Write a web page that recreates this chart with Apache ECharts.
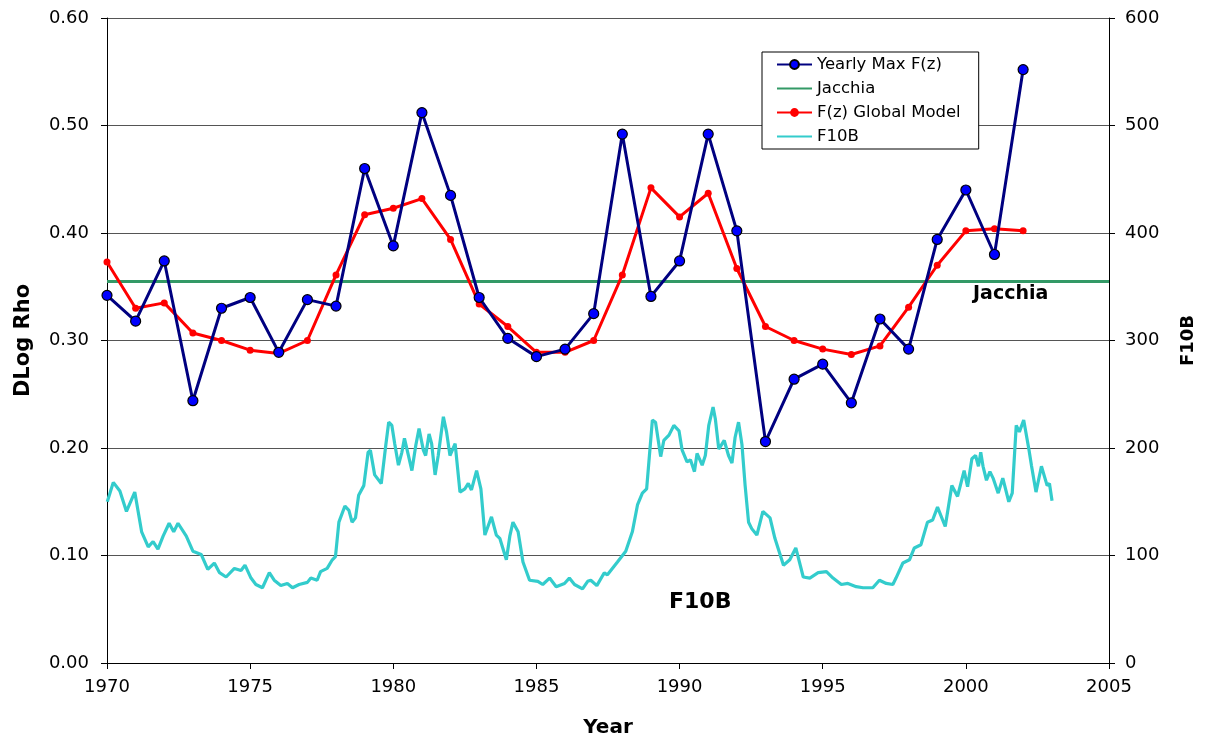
<!DOCTYPE html>
<html>
<head>
<meta charset="utf-8">
<script src="https://cdn.jsdelivr.net/npm/echarts@6/dist/echarts.min.js"></script>
<style>
html,body{margin:0;padding:0;background:#fff;overflow:hidden;}
#chart{width:1205px;height:743px;}
</style>
</head>
<body>
<div id="chart"></div>
<script>
// ---- data ----
var years = [1970,1971,1972,1973,1974,1975,1976,1977,1978,1979,1980,1981,1982,1983,1984,1985,1986,1987,1988,1989,1990,1991,1992,1993,1994,1995,1996,1997,1998,1999,2000,2001,2002];
var yearlyMaxFz = [0.342,0.318,0.374,0.244,0.330,0.340,0.289,0.338,0.332,0.460,0.388,0.512,0.435,0.340,0.302,0.285,0.292,0.325,0.492,0.341,0.374,0.492,0.402,0.206,0.264,0.278,0.242,0.320,0.292,0.394,0.440,0.380,0.552];
var globalModelFz = [0.373,0.330,0.335,0.307,0.300,0.291,0.288,0.300,0.361,0.417,0.423,0.432,0.394,0.334,0.313,0.289,0.289,0.300,0.361,0.442,0.415,0.437,0.367,0.313,0.300,0.292,0.287,0.295,0.331,0.370,0.402,0.404,0.402];
var jacchiaYears = [1970, 2005];
var jacchiaValue = 0.355;
var f10b = [
[1970.01,150],[1970.22,168],[1970.45,160],[1970.68,141],[1970.97,159],[1971.21,122],[1971.44,108],[1971.61,113],[1971.78,106],[1971.96,118],
[1972.17,130],[1972.33,122],[1972.48,130],[1972.77,118],[1973.00,104],[1973.29,101],[1973.52,87],[1973.75,93],[1973.93,84],[1974.16,80],
[1974.45,88],[1974.68,86],[1974.82,91],[1975.03,79],[1975.20,73],[1975.43,70],[1975.67,84],[1975.84,77],[1976.07,72],[1976.30,74],
[1976.48,70],[1976.71,73],[1977.00,75],[1977.12,79],[1977.34,77],[1977.46,85],[1977.69,88],[1977.87,96],[1977.98,99],[1978.10,131],
[1978.31,146],[1978.45,142],[1978.56,131],[1978.68,135],[1978.79,156],[1978.97,165],[1979.12,196],[1979.20,198],[1979.35,175],[1979.58,167],
[1979.74,203],[1979.84,224],[1979.95,221],[1980.05,204],[1980.18,184],[1980.30,196],[1980.39,209],[1980.53,193],[1980.65,179],[1980.79,203],
[1980.90,218],[1981.05,198],[1981.13,193],[1981.25,213],[1981.34,204],[1981.46,175],[1981.57,193],[1981.75,229],[1981.86,215],[1981.98,193],
[1982.16,204],[1982.33,159],[1982.50,162],[1982.62,167],[1982.73,161],[1982.91,179],[1983.06,162],[1983.20,119],[1983.43,136],[1983.60,119],
[1983.72,116],[1983.95,96],[1984.07,118],[1984.18,131],[1984.36,122],[1984.53,94],[1984.76,77],[1985.05,76],[1985.22,73],[1985.46,79],
[1985.69,71],[1985.98,74],[1986.15,79],[1986.33,73],[1986.61,69],[1986.79,76],[1986.90,77],[1987.11,72],[1987.37,84],[1987.48,82],
[1987.83,94],[1988.12,104],[1988.35,122],[1988.53,147],[1988.70,158],[1988.85,162],[1989.05,226],[1989.16,224],[1989.34,192],[1989.45,207],
[1989.63,212],[1989.80,221],[1989.98,216],[1990.09,198],[1990.26,187],[1990.38,189],[1990.52,178],[1990.61,195],[1990.79,184],[1990.90,193],
[1991.02,221],[1991.17,238],[1991.25,227],[1991.37,199],[1991.56,207],[1991.71,193],[1991.83,186],[1991.94,210],[1992.06,224],[1992.18,203],
[1992.29,165],[1992.41,131],[1992.52,125],[1992.70,119],[1992.91,141],[1993.16,135],[1993.33,116],[1993.63,91],[1993.85,96],[1994.06,107],
[1994.32,80],[1994.55,79],[1994.84,84],[1995.13,85],[1995.36,79],[1995.65,73],[1995.88,74],[1996.17,71],[1996.41,70],[1996.75,70],
[1996.98,77],[1997.22,74],[1997.45,73],[1997.56,79],[1997.80,93],[1998.03,96],[1998.20,107],[1998.43,110],[1998.66,131],[1998.84,133],
[1999.01,145],[1999.28,127],[1999.51,165],[1999.71,155],[1999.94,179],[2000.06,164],[2000.21,190],[2000.34,193],[2000.44,183],[2000.52,196],
[2000.60,183],[2000.72,170],[2000.84,178],[2000.95,172],[2001.13,158],[2001.29,172],[2001.50,150],[2001.62,158],[2001.76,221],[2001.87,215],
[2002.02,226],[2002.20,199],[2002.29,184],[2002.45,159],[2002.64,183],[2002.84,165],[2002.92,167],[2003.01,151]
];
var xTicks = {min:1970, max:2005, step:5};
var leftTicks = {min:0, max:0.6, step:0.1};
var rightTicks = {min:0, max:600, step:100};

var FONT = 'DejaVu Sans';

function pairs(xs, ys){ return xs.map(function(x,i){ return [x, ys[i]]; }); }

var chart = echarts.init(document.getElementById('chart'), null, {renderer:'canvas'});
chart.setOption({
  animation:false,
  backgroundColor:'#fff',
  textStyle:{fontFamily:FONT, color:'#000'},
  grid:{left:107, right:91, top:18, bottom:78},
  legend:{
    orient:'vertical', left:762, top:52,
    backgroundColor:'#fff', borderColor:'#000', borderWidth:1,
    padding:[4,18,4,14],
    itemWidth:35, itemHeight:11, itemGap:7,
    textStyle:{fontFamily:FONT, fontSize:16.5, color:'#000'},
    data:[
      {name:'Yearly Max F(z)'},
      {name:'Jacchia', itemStyle:{opacity:0}},
      {name:'F(z) Global Model'},
      {name:'F10B', itemStyle:{opacity:0}}
    ]
  },
  xAxis:{
    type:'value', min:xTicks.min, max:xTicks.max, interval:xTicks.step,
    name:'Year', nameLocation:'middle', nameGap:55,
    nameTextStyle:{fontFamily:FONT, fontSize:20, fontWeight:'bold', color:'#000'},
    axisLine:{show:true, onZero:false, lineStyle:{color:'#000', width:1}},
    axisTick:{show:true, length:6, lineStyle:{color:'#000'}},
    axisLabel:{fontFamily:FONT, fontSize:18, color:'#000', margin:15, formatter:function(v){return String(v);}},
    splitLine:{show:false}
  },
  yAxis:[{
    type:'value', min:leftTicks.min, max:leftTicks.max, interval:leftTicks.step,
    position:'left',
    name:'DLog Rho', nameLocation:'middle', nameGap:73, nameRotate:90,
    nameTextStyle:{fontFamily:FONT, fontSize:21, fontWeight:'bold', color:'#000'},
    axisLine:{show:true, lineStyle:{color:'#000', width:1}},
    axisTick:{show:true, length:6, lineStyle:{color:'#000'}},
    axisLabel:{fontFamily:FONT, fontSize:18, color:'#000', margin:18, formatter:function(v){return v.toFixed(2);}},
    splitLine:{show:true, lineStyle:{color:'#555', width:1}}
  },{
    type:'value', min:rightTicks.min, max:rightTicks.max, interval:rightTicks.step,
    position:'right',
    name:'F10B', nameLocation:'middle', nameGap:70, nameRotate:90,
    nameTextStyle:{fontFamily:FONT, fontSize:18, fontWeight:'bold', color:'#000'},
    axisLine:{show:true, lineStyle:{color:'#000', width:1}},
    axisTick:{show:true, length:6, lineStyle:{color:'#000'}},
    axisLabel:{fontFamily:FONT, fontSize:18, color:'#000', margin:16},
    splitLine:{show:false}
  }],
  series:[
    {
      name:'F10B', type:'line', yAxisIndex:1, symbol:'none',
      data:f10b, lineStyle:{color:'#33CCCC', width:3.2}, itemStyle:{color:'#33CCCC'}, z:2
    },
    {
      name:'Jacchia', type:'line', symbol:'none',
      data:jacchiaYears.map(function(y){return [y, jacchiaValue];}),
      lineStyle:{color:'#339966', width:3}, itemStyle:{color:'#339966'}, z:3
    },
    {
      name:'F(z) Global Model', type:'line', symbol:'circle', symbolSize:7,
      data:pairs(years, globalModelFz),
      lineStyle:{color:'#FF0000', width:3}, itemStyle:{color:'#FF0000'}, z:4
    },
    {
      name:'Yearly Max F(z)', type:'line', symbol:'circle', symbolSize:10,
      data:pairs(years, yearlyMaxFz),
      lineStyle:{color:'#000080', width:3},
      itemStyle:{color:'#0000FF', borderColor:'#000', borderWidth:1.2}, z:5
    }
  ],
  graphic:[
    {type:'text', left:973, top:285, style:{text:'Jacchia', font:'bold 19px "DejaVu Sans"', fill:'#000'}},
    {type:'text', left:669, top:591, style:{text:'F10B', font:'bold 22px "DejaVu Sans"', fill:'#000'}}
  ]
});
</script>
</body>
</html>
